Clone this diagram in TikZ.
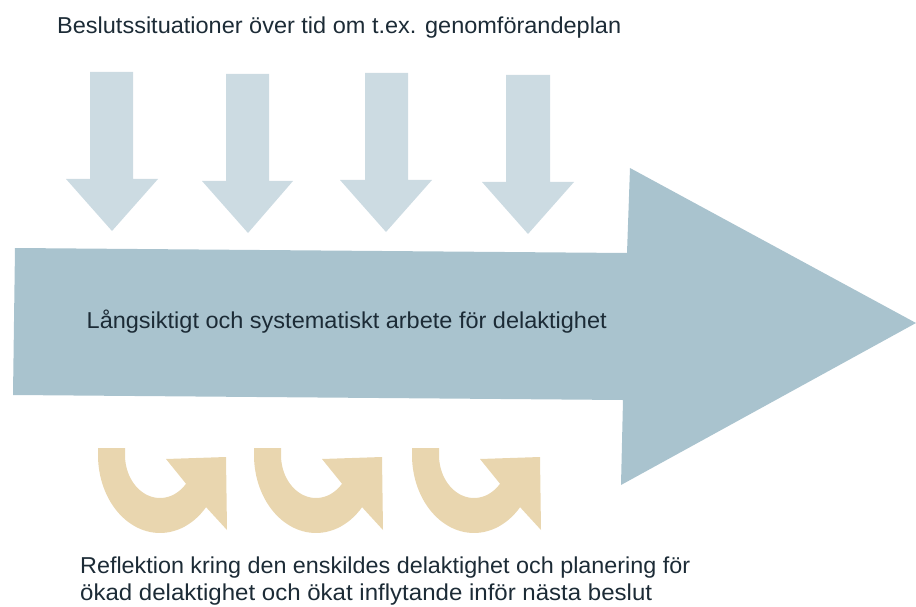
\documentclass[tikz,border=0pt]{standalone}
\usepackage{fontspec}
\setmainfont{Liberation Sans}
\usepackage{graphicx}
\newsavebox\fitbox
\newcommand{\fitw}[2]{\sbox\fitbox{#2}\pgfmathsetmacro\fitr{#1/\the\wd\fitbox}\scalebox{\fitr}[1]{\usebox\fitbox}}
\definecolor{downblue}{HTML}{CCDBE2}
\definecolor{bigblue}{HTML}{A9C3CE}
\definecolor{tan}{HTML}{E9D6AF}
\definecolor{ink}{HTML}{1C2B36}
\begin{document}
\begin{tikzpicture}[x=1pt,y=-1pt,
  txt/.style={inner sep=0pt, anchor=base west, text=ink, font=\fontsize{23}{27}\selectfont},
  downarrow/.style={fill=downblue},
  bigarrow/.style={fill=bigblue},
  looparrow/.style={fill=tan}]
\useasboundingbox (0,0) rectangle (916,607);
% big arrow
\fill[bigarrow] (15,248) -- (627,253) -- (630,168) -- (916,323) -- (621,485) -- (623,400) -- (13,395) -- cycle;
% down arrows
\fill[downarrow] (90,72) -- (133,72) -- (133,179) -- (158,179) -- (112,231) -- (66,179) -- (90,179) -- cycle;
\fill[downarrow] (226,74) -- (269,74) -- (269,181) -- (293,181) -- (248,233) -- (202,181) -- (226,181) -- cycle;
\fill[downarrow] (365,73) -- (408,73) -- (408,180) -- (432,180) -- (386,232) -- (340,180) -- (365,180) -- cycle;
\fill[downarrow] (506,75) -- (550,75) -- (550,182) -- (574,182) -- (528,234) -- (482,182) -- (506,182) -- cycle;
% loop arrows
\foreach \dx in {0,156,314}{
  \begin{scope}[xshift=\dx]
  \fill[looparrow] (98,448) -- (98,455)
    -- plot[domain=180:42, samples=40, smooth] ({160+62*cos(\x)}, {455+78*sin(\x)})
    -- (227,530) -- (226,457) -- (166,459)
    -- plot[domain=42:180, samples=40, smooth] ({160+35*cos(\x)}, {455+43*sin(\x)})
    -- (125,448) -- cycle;
  \end{scope}
}
% texts
\node[txt] (toptext) at (57,34) {\fitw{564pt}{Beslutssituationer över tid om t.ex. genomförandeplan}};
\node[txt] (midtext) at (86.5,328) {\fitw{520pt}{Långsiktigt och systematiskt arbete för delaktighet}};
\node[txt] (bottext1) at (80,573) {\fitw{610pt}{Reflektion kring den enskildes delaktighet och planering för}};
\node[txt] (bottext2) at (80,600) {\fitw{572pt}{ökad delaktighet och ökat inflytande inför nästa beslut}};
\end{tikzpicture}
\end{document}
